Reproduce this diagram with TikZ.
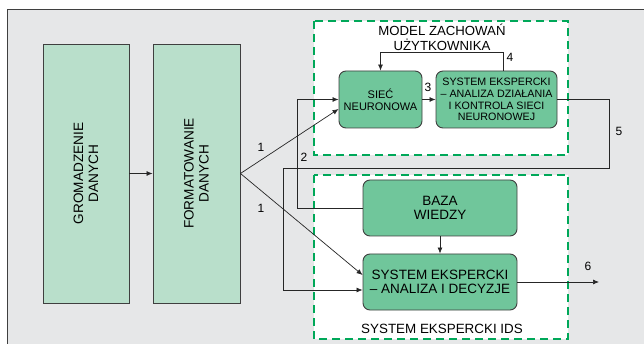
\documentclass[tikz,border=0pt]{standalone}
\usepackage{fontspec}
\setmainfont{Liberation Sans}
\usetikzlibrary{calc,arrows.meta}
\definecolor{framegray}{HTML}{E6E7E8}
\definecolor{palegreen}{HTML}{B9DFCB}
\definecolor{midgreen}{HTML}{70C69B}
\definecolor{dashgreen}{HTML}{00A859}
\definecolor{edgegray}{HTML}{3F3F3F}
\begin{document}
\begin{tikzpicture}[x=1pt,y=-1pt,
    databox/.style={draw=edgegray, line width=0.9pt, fill=palegreen, rotate=90,
      minimum width=259pt, minimum height=86pt, inner sep=1pt, align=center,
      font=\fontsize{13.6}{15}\selectfont},
    procbox/.style={draw=edgegray, line width=0.9pt, fill=midgreen, rounded corners=7pt,
      inner sep=1pt, align=center},
    groupbox/.style={draw=dashgreen, fill=white, line width=1.6pt, dash pattern=on 8pt off 5pt},
    num/.style={font=\fontsize{12}{14}\selectfont},
    link/.style={draw=black!85, line width=0.7pt},
    >={Latex[length=6pt,width=5pt]}]
  \useasboundingbox (0,0) rectangle (644,344);
  % frame
  \fill[framegray] (7,9) rectangle (644,344);
  \draw[edgegray, line width=0.8pt] (7,344) -- (7,9) -- (644,9);
  % groups
  \draw[groupbox] (314,21) rectangle (568,155);
  \draw[groupbox] (314,175) rectangle (568,339);
  \node[font=\fontsize{13.2}{15}\selectfont, align=center] (modellabel) at (442,37.5)
    {MODEL ZACHOWAŃ\\UŻYTKOWNIKA};
  \node[font=\fontsize{13.4}{15}\selectfont] (idslabel) at (442,329) {SYSTEM EKSPERCKI IDS};
  % boxes
  \node[databox] (gro) at (86,173.5) {GROMADZENIE\\DANYCH};
  \node[databox, minimum height=87pt] (form) at (196.5,173.5) {FORMATOWANIE\\DANYCH};
  \node[procbox, minimum width=83pt, minimum height=57pt,
    font=\fontsize{11}{12}\selectfont] (siec) at (380.5,99.5) {SIEĆ\\NEURONOWA};
  \node[procbox, minimum width=121pt, minimum height=57pt,
    font=\fontsize{10.7}{11.8}\selectfont] (kontrola) at (496.5,99.5)
    {SYSTEM EKSPERCKI\\– ANALIZA DZIAŁANIA\\I KONTROLA SIECI\\NEURONOWEJ};
  \node[procbox, minimum width=154pt, minimum height=56pt,
    font=\fontsize{13.5}{14.7}\selectfont] (baza) at (440,208) {BAZA\\WIEDZY};
  \node[procbox, minimum width=154pt, minimum height=56pt,
    font=\fontsize{13.5}{14.7}\selectfont] (decyzje) at (440,282)
    {SYSTEM EKSPERCKI\\– ANALIZA I DECYZJE};
  % helper points
  \coordinate (p5a) at (609,99.5);
  \coordinate (p5b) at (609,168);
  \coordinate (p5c) at (283,168);
  \coordinate (p2a) at (297,208);
  \coordinate (out6) at (599,282);
  % connectors
  \begin{scope}[link,->]
    \draw (gro.south) -- (form.north);
    \draw (form.south) -- ($(siec.west)+(0,9.5)$);
    \draw (form.south) -- ($(decyzje.west)+(0,-7)$);
    \draw (siec.east) -- (kontrola.east -| kontrola.west);
    \draw ([xshift=6.5pt]kontrola.north) -- ++(0,-18) -| (siec.north);
    \draw (kontrola.east) -- (p5a) -- (p5b) -- (p5c) |- ($(decyzje.west)+(0,8)$);
    \draw (baza.west) -- (p2a) |- (siec.west);
    \draw (baza.south) -- (decyzje.north);
    \draw (decyzje.east) -- (out6);
  \end{scope}
  % labels
  \node[num] (n1a) at (261,147) {1};
  \node[num] (n1b) at (261,208) {1};
  \node[num] (n2) at (304,157) {2};
  \node[num] (n3) at (428,87) {3};
  \node[num] (n4) at (510,57) {4};
  \node[num] (n5) at (619,131) {5};
  \node[num] (n6) at (588,266) {6};
\end{tikzpicture}
\end{document}
